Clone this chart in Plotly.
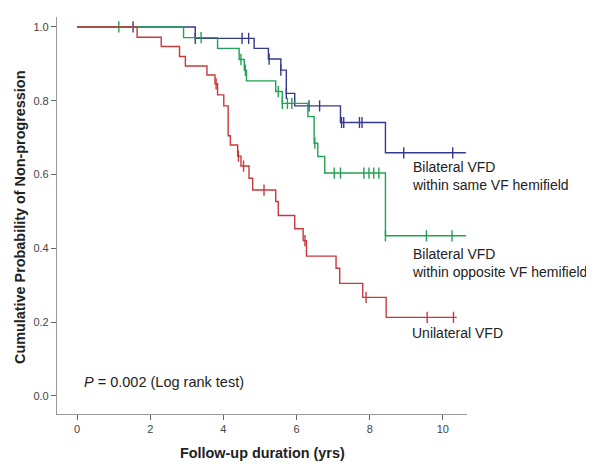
import plotly.graph_objects as go

# ---- data (Kaplan-Meier estimates) ----
same_event_t = [3.23, 4.84, 5.23, 5.57, 5.72, 5.95, 7.20, 8.43]
same_event_s = [0.969, 0.942, 0.913, 0.883, 0.820, 0.786, 0.741, 0.659]
same_cens_t = [1.53, 3.23, 4.51, 4.69, 5.25, 5.57, 5.72, 6.34, 6.63, 7.23, 7.29, 7.72, 7.79, 8.93, 10.27]
same_end = 10.63

opp_event_t = [2.91, 3.84, 4.43, 4.57, 4.63, 5.43, 5.61, 6.31, 6.48, 6.58, 6.77, 8.43]
opp_event_s = [0.971, 0.942, 0.912, 0.883, 0.854, 0.825, 0.793, 0.757, 0.685, 0.649, 0.604, 0.434]
opp_cens_t = [1.14, 3.39, 4.48, 4.60, 5.50, 5.61, 5.75, 5.87, 6.50, 7.03, 7.20, 7.84, 7.98, 8.11, 8.25, 8.43, 9.55, 10.25]
opp_end = 10.63

uni_event_t = [1.64, 2.30, 2.80, 2.96, 3.55, 3.77, 3.84, 4.01, 4.13, 4.19, 4.39, 4.48, 4.70, 4.80,
               5.43, 5.50, 5.95, 6.18, 6.27, 7.08, 7.18, 7.81, 8.45]
uni_event_s = [0.972, 0.947, 0.920, 0.894, 0.870, 0.846, 0.816, 0.786, 0.705, 0.680, 0.650, 0.623, 0.590, 0.558,
               0.527, 0.489, 0.453, 0.421, 0.379, 0.346, 0.305, 0.267, 0.213]
uni_cens_t = [3.80, 4.41, 4.55, 5.11, 6.23, 7.90, 9.57, 10.29]
uni_end = 10.38

x_ticks = [0, 2, 4, 6, 8, 10]
y_ticks = [0.0, 0.2, 0.4, 0.6, 0.8, 1.0]
y_tick_text = ["0.0", "0.2", "0.4", "0.6", "0.8", "1.0"]

groups = [
    ("Bilateral VFD<br>within same VF hemifield", same_event_t, same_event_s, same_cens_t, same_end, "#363a8c"),
    ("Bilateral VFD<br>within opposite VF hemifield", opp_event_t, opp_event_s, opp_cens_t, opp_end, "#22a254"),
    ("Unilateral VFD", uni_event_t, uni_event_s, uni_cens_t, uni_end, "#c8393c"),
]
label_y = [0.595, 0.360, 0.170]


def surv_at(t, et, es):
    s = 1.0
    for ti, si in zip(et, es):
        if ti <= t:
            s = si
    return s


fig = go.Figure()
for name, et, es, ct, end, col in groups:
    xs = [0.0] + list(et) + [end]
    ys = [1.0] + list(es) + [es[-1]]
    fig.add_trace(go.Scatter(x=xs, y=ys, mode="lines", line=dict(color=col, width=1.4, shape="hv"),
                             hoverinfo="skip", showlegend=False))
    cy = [surv_at(t, et, es) for t in ct]
    fig.add_trace(go.Scatter(x=ct, y=cy, mode="markers",
                             marker=dict(symbol="line-ns", size=8, line=dict(color=col, width=1.4)),
                             hoverinfo="skip", showlegend=False))

font_main = "Arial, Liberation Sans, sans-serif"
annotations = []
for (name, *_), ly in zip(groups, label_y):
    annotations.append(dict(x=9.10, y=ly, xref="x", yref="y", text=name, showarrow=False,
                            xanchor="left", yanchor="middle", align="left",
                            font=dict(family=font_main, size=14, color="#222")))
annotations.append(dict(x=0.13, y=0.039, xref="x", yref="y", text="<i>P</i> = 0.002 (Log rank test)",
                        showarrow=False, xanchor="left", yanchor="middle",
                        font=dict(family=font_main, size=14.5, color="#222")))
annotations.append(dict(x=-0.09, y=0.494, xref="paper", yref="paper",
                        text="<b>Cumulative Probability of Non-progression</b>", textangle=-90,
                        showarrow=False, xanchor="center", yanchor="middle",
                        font=dict(family=font_main, size=14.4, color="#222")))
annotations.append(dict(x=0.501, y=-0.098, xref="paper", yref="paper",
                        text="<b>Follow-up duration (yrs)</b>",
                        showarrow=False, xanchor="center", yanchor="middle",
                        font=dict(family=font_main, size=14.4, color="#222")))

# page body adds an 8px offset, so the figure is sized/margined to compensate
fig.update_layout(
    width=586, height=456,
    margin=dict(l=49, r=127, t=9, b=50),
    paper_bgcolor="white", plot_bgcolor="white",
    annotations=annotations,
    xaxis=dict(range=[-0.55, 10.66], tickvals=x_ticks, ticks="outside", ticklen=5, tickcolor="#666",
               showline=True, linecolor="#999", linewidth=1.2, showgrid=False, zeroline=False,
               tickfont=dict(family=font_main, size=11, color="#444")),
    yaxis=dict(range=[-0.049, 1.027], tickvals=y_ticks, ticktext=y_tick_text, ticks="outside", ticklen=5,
               tickcolor="#666", showline=True, linecolor="#999", linewidth=1.2, showgrid=False,
               zeroline=False, tickfont=dict(family=font_main, size=11, color="#444")),
)

fig.write_html("out.html")
